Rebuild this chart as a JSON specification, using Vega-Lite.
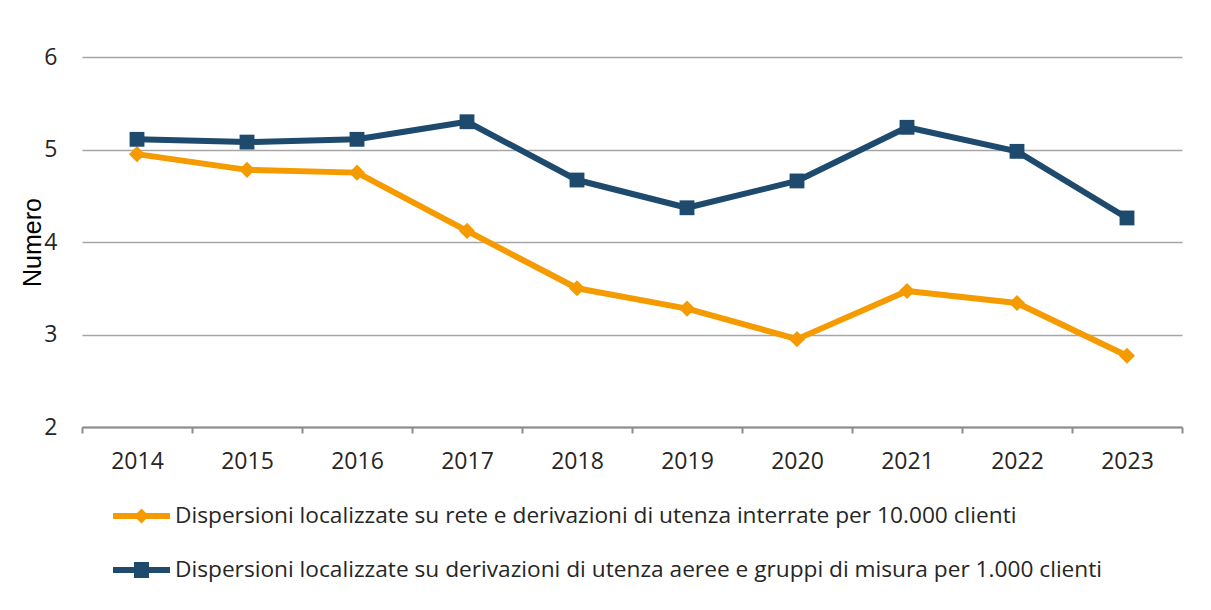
{
  "$schema": "https://vega.github.io/schema/vega-lite/v6.json",
  "autosize": "none",
  "padding": {"left": 82, "top": 57, "right": 29, "bottom": 183},
  "width": 1100,
  "height": 370,
  "background": "white",
  "config": {
    "view": {"stroke": null},
    "font": "Open Sans"
  },
  "data": {
    "values": [
      {"anno": "2014", "serie": "Dispersioni localizzate su rete e derivazioni di utenza interrate per 10.000 clienti", "valore": 4.95},
      {"anno": "2015", "serie": "Dispersioni localizzate su rete e derivazioni di utenza interrate per 10.000 clienti", "valore": 4.78},
      {"anno": "2016", "serie": "Dispersioni localizzate su rete e derivazioni di utenza interrate per 10.000 clienti", "valore": 4.75},
      {"anno": "2017", "serie": "Dispersioni localizzate su rete e derivazioni di utenza interrate per 10.000 clienti", "valore": 4.12},
      {"anno": "2018", "serie": "Dispersioni localizzate su rete e derivazioni di utenza interrate per 10.000 clienti", "valore": 3.50},
      {"anno": "2019", "serie": "Dispersioni localizzate su rete e derivazioni di utenza interrate per 10.000 clienti", "valore": 3.28},
      {"anno": "2020", "serie": "Dispersioni localizzate su rete e derivazioni di utenza interrate per 10.000 clienti", "valore": 2.95},
      {"anno": "2021", "serie": "Dispersioni localizzate su rete e derivazioni di utenza interrate per 10.000 clienti", "valore": 3.47},
      {"anno": "2022", "serie": "Dispersioni localizzate su rete e derivazioni di utenza interrate per 10.000 clienti", "valore": 3.34},
      {"anno": "2023", "serie": "Dispersioni localizzate su rete e derivazioni di utenza interrate per 10.000 clienti", "valore": 2.77},
      {"anno": "2014", "serie": "Dispersioni localizzate su derivazioni di utenza aeree e gruppi di misura per 1.000 clienti", "valore": 5.11},
      {"anno": "2015", "serie": "Dispersioni localizzate su derivazioni di utenza aeree e gruppi di misura per 1.000 clienti", "valore": 5.08},
      {"anno": "2016", "serie": "Dispersioni localizzate su derivazioni di utenza aeree e gruppi di misura per 1.000 clienti", "valore": 5.11},
      {"anno": "2017", "serie": "Dispersioni localizzate su derivazioni di utenza aeree e gruppi di misura per 1.000 clienti", "valore": 5.30},
      {"anno": "2018", "serie": "Dispersioni localizzate su derivazioni di utenza aeree e gruppi di misura per 1.000 clienti", "valore": 4.67},
      {"anno": "2019", "serie": "Dispersioni localizzate su derivazioni di utenza aeree e gruppi di misura per 1.000 clienti", "valore": 4.37},
      {"anno": "2020", "serie": "Dispersioni localizzate su derivazioni di utenza aeree e gruppi di misura per 1.000 clienti", "valore": 4.66},
      {"anno": "2021", "serie": "Dispersioni localizzate su derivazioni di utenza aeree e gruppi di misura per 1.000 clienti", "valore": 5.24},
      {"anno": "2022", "serie": "Dispersioni localizzate su derivazioni di utenza aeree e gruppi di misura per 1.000 clienti", "valore": 4.98},
      {"anno": "2023", "serie": "Dispersioni localizzate su derivazioni di utenza aeree e gruppi di misura per 1.000 clienti", "valore": 4.26}
    ]
  },
  "encoding": {
    "x": {
      "field": "anno",
      "type": "ordinal",
      "bandPosition": 0.5,
      "scale": {"type": "band", "paddingInner": 0, "paddingOuter": 0},
      "axis": {
        "title": null,
        "tickBand": "extent",
        "labelAngle": 0,
        "labelFont": "Open Sans",
        "labelFontSize": 23,
        "labelColor": "#262626",
        "labelBaseline": "middle",
        "labelPadding": 28,
        "tickSize": 6,
        "tickColor": "#8c8c8c",
        "tickWidth": 2,
        "domainColor": "#8c8c8c",
        "domainWidth": 2,
        "grid": false
      }
    },
    "y": {
      "field": "valore",
      "type": "quantitative",
      "scale": {"domain": [2, 6], "nice": false, "zero": false},
      "axis": {
        "values": [2, 3, 4, 5, 6],
        "title": "Numero",
        "titleFont": "Liberation Sans",
        "titleFontSize": 25,
        "titleFontWeight": "normal",
        "titleColor": "#000000",
        "titleX": -50,
        "titleBaseline": "middle",
        "labelFont": "Open Sans",
        "labelFontSize": 23,
        "labelColor": "#262626",
        "labelPadding": 25,
        "ticks": false,
        "domain": false,
        "grid": true,
        "gridColor": "#a6a6a6",
        "gridWidth": 1.5
      }
    },
    "color": {
      "field": "serie",
      "type": "nominal",
      "scale": {
        "domain": [
          "Dispersioni localizzate su rete e derivazioni di utenza interrate per 10.000 clienti",
          "Dispersioni localizzate su derivazioni di utenza aeree e gruppi di misura per 1.000 clienti"
        ],
        "range": ["#f59b00", "#1d4a6d"]
      },
      "legend": {
        "title": null,
        "orient": "none",
        "legendX": 34.5,
        "legendY": 434,
        "direction": "vertical",
        "padding": 0,
        "symbolSize": 2500,
        "labelOffset": 8.5,
        "rowPadding": 17,
        "labelFont": "Open Sans",
        "labelFontSize": 22.7,
        "labelColor": "#262626",
        "labelLimit": 2000,
        "encode": {
          "symbols": {
            "update": {
              "shape": {"signal": "datum.value === 'Dispersioni localizzate su rete e derivazioni di utenza interrate per 10.000 clienti' ? 'M-1.14,-0.12L1.14,-0.12L1.14,0.12L-1.14,0.12Z M0,-0.3L0.3,0L0,0.3L-0.3,0Z' : 'M-1.14,-0.12L1.14,-0.12L1.14,0.12L-1.14,0.12Z M-0.3,-0.32L0.3,-0.32L0.3,0.32L-0.3,0.32Z'"},
              "size": {"value": 2500},
              "fill": {"scale": "color", "field": "value"},
              "fillOpacity": {"value": 1},
              "strokeWidth": {"value": 0},
              "opacity": {"value": 1}
            }
          }
        }
      }
    }
  },
  "layer": [
    {
      "mark": {"type": "line", "strokeWidth": 6, "strokeJoin": "round"}
    },
    {
      "transform": [{"filter": {"field": "serie", "equal": "Dispersioni localizzate su rete e derivazioni di utenza interrate per 10.000 clienti"}}],
      "mark": {"type": "point", "shape": "diamond", "filled": true, "opacity": 1, "size": 260}
    },
    {
      "transform": [{"filter": {"field": "serie", "equal": "Dispersioni localizzate su derivazioni di utenza aeree e gruppi di misura per 1.000 clienti"}}],
      "mark": {"type": "point", "shape": "square", "filled": true, "opacity": 1, "size": 220}
    }
  ]
}
